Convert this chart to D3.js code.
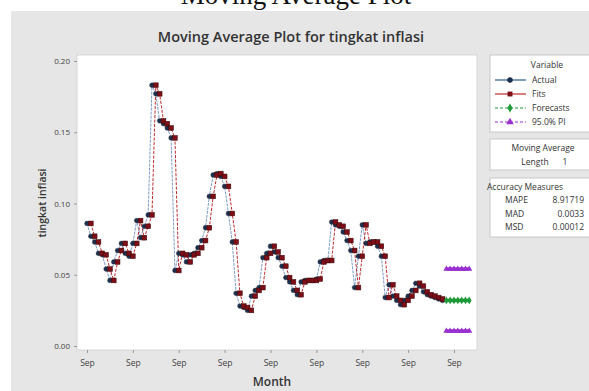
<!DOCTYPE html>
<html><head><meta charset="utf-8">
<script src="https://cdn.jsdelivr.net/npm/d3@7"></script>
<style>html,body{margin:0;padding:0;background:#fff;overflow:hidden}</style>
</head><body><svg id="c" width="589" height="391"></svg>
<script>
const xTickIdx = [0,12,24,36,48,60,72,84,96];
const xTickLabels = ["Sep","Sep","Sep","Sep","Sep","Sep","Sep","Sep","Sep"];
const yTicks = [0.00,0.05,0.10,0.15,0.20];
const actual = [0.086,0.077,0.073,0.065,0.064,0.054,0.046,0.059,0.067,0.072,
0.065,0.063,0.072,0.088,0.076,0.084,0.092,0.183,0.177,0.158,
0.156,0.153,0.146,0.053,0.065,0.064,0.059,0.064,0.065,0.069,
0.074,0.083,0.105,0.120,0.121,0.119,0.112,0.093,0.073,0.037,
0.028,0.027,0.025,0.035,0.039,0.041,0.062,0.065,0.070,0.066,
0.062,0.056,0.048,0.045,0.039,0.036,0.045,0.046,0.046,0.046,
0.047,0.059,0.060,0.060,0.087,0.085,0.084,0.080,0.074,0.067,
0.041,0.063,0.085,0.072,0.073,0.073,0.070,0.063,0.034,0.043,
0.035,0.032,0.029,0.032,0.035,0.039,0.044,0.042,0.038,0.036,
0.035,0.034,0.033,0.032];
const fits = [null,0.086,0.077,0.073,0.065,0.064,0.054,0.046,0.059,0.067,
0.072,0.065,0.063,0.072,0.088,0.076,0.084,0.092,0.183,0.177,
0.158,0.156,0.153,0.146,0.053,0.065,0.064,0.059,0.064,0.065,
0.069,0.074,0.083,0.105,0.120,0.121,0.119,0.112,0.093,0.073,
0.037,0.028,0.027,0.025,0.035,0.039,0.041,0.062,0.065,0.070,
0.066,0.062,0.056,0.048,0.045,0.039,0.036,0.045,0.046,0.046,
0.046,0.047,0.059,0.060,0.060,0.087,0.085,0.084,0.080,0.074,
0.067,0.041,0.063,0.085,0.072,0.073,0.073,0.070,0.063,0.034,
0.043,0.035,0.032,0.029,0.032,0.035,0.039,0.044,0.042,0.038,
0.036,0.035,0.034,0.033];
const forecastIdx = [94,95,96,97,98,99,100];
const forecast = [0.032,0.032,0.032,0.032,0.032,0.032,0.032];
const upperPI = [0.054,0.054,0.054,0.054,0.054,0.054,0.054];
const lowerPI = [0.0105,0.0105,0.0105,0.0105,0.0105,0.0105,0.0105];
const legendItems = ["Actual","Fits","Forecasts","95.0% PI"];
const accuracyNames = ["MAPE","MAD","MSD"];
const accuracyValues = ["8.91719","0.0033","0.00012"];

const svg = d3.select("#c");
const sans = "'Open Sans', 'DejaVu Sans', sans-serif";
svg.append("rect").attr("x",11).attr("y",11).attr("width",578).attr("height",380).attr("fill","#e6e6e6");
svg.append("text").attr("x",296).attr("y",4).attr("text-anchor","middle")
  .attr("font-family","'Liberation Serif', serif").attr("font-size",27).attr("fill","#111").text("Moving Average Plot");
svg.append("text").attr("x",291).attr("y",42).attr("text-anchor","middle")
  .attr("font-family",sans).attr("font-weight",600).attr("font-size",14.5).attr("fill","#333")
  .text("Moving Average Plot for tingkat inflasi");

const x = d3.scaleLinear().domain([0,96]).range([87,454]);
const y = d3.scaleLinear().domain([0,0.2]).range([346,61]);

svg.append("rect").attr("x",77).attr("y",55).attr("width",400).attr("height",295)
  .attr("fill","#fff").attr("stroke","#cfcfcf").attr("stroke-width",0.8);

const yAxis = svg.append("g").attr("transform","translate(77,0)")
  .call(d3.axisLeft(y).tickValues(yTicks).tickFormat(d3.format(".2f")).tickSize(3));
yAxis.select(".domain").remove();
yAxis.selectAll("line").attr("stroke","#999");
yAxis.selectAll("text").attr("font-family",sans).attr("font-size",8).attr("fill","#444").attr("dx",-1);

const xAxis = svg.append("g").attr("transform","translate(0,350)")
  .call(d3.axisBottom(x).tickValues(xTickIdx).tickFormat((d,i)=>xTickLabels[i]).tickSize(3));
xAxis.select(".domain").remove();
xAxis.selectAll("line").attr("stroke","#999");
xAxis.selectAll("text").attr("font-family",sans).attr("font-size",8.5).attr("fill","#444").attr("dy","1.2em");

svg.append("text").attr("transform","translate(46,203) rotate(-90)").attr("text-anchor","middle")
  .attr("font-family",sans).attr("font-weight",600).attr("font-size",10.5).attr("fill","#333").text("tingkat inflasi");
svg.append("text").attr("x",272).attr("y",386).attr("text-anchor","middle")
  .attr("font-family",sans).attr("font-weight",600).attr("font-size",12).attr("fill","#333").text("Month");

const line = d3.line().defined(d=>d[1]!=null).x(d=>x(d[0])).y(d=>y(d[1]));
const aPts = actual.map((v,i)=>[i,v]);
const fPts = fits.map((v,i)=>[i,v]);

const cA = "#2a5d96", cAm = "#1b2f4f";
const cF = "#c0282d", cFm = "#7d0d16";
const cG = "#1f9a3a", cP = "#9a2fd0";

svg.append("path").attr("d",line(aPts)).attr("fill","none").attr("stroke","#7f9cc8").attr("stroke-width",1).attr("stroke-dasharray","3,1");
svg.append("path").attr("d",line(fPts)).attr("fill","none").attr("stroke",cF).attr("stroke-width",1).attr("stroke-dasharray","3,1.5");
svg.append("g").selectAll("circle").data(aPts).join("circle")
  .attr("cx",d=>x(d[0])).attr("cy",d=>y(d[1])).attr("r",2.4).attr("fill",cAm).attr("stroke","#333").attr("stroke-width",0.4);
svg.append("g").selectAll("rect").data(fPts.filter(d=>d[1]!=null)).join("rect")
  .attr("x",d=>x(d[0])-2.4).attr("y",d=>y(d[1])-2.4).attr("width",4.8).attr("height",4.8)
  .attr("fill",cFm).attr("stroke","#3a0a0a").attr("stroke-width",0.5);

function band(vals,color,sym,size){
  const pts = vals.map((v,i)=>[forecastIdx[i],v]);
  svg.append("path").attr("d",line(pts)).attr("fill","none").attr("stroke",color).attr("stroke-width",3.5);
  svg.append("g").selectAll("path").data(pts).join("path")
    .attr("transform",d=>`translate(${x(d[0])},${y(d[1])})`)
    .attr("d",d3.symbol().type(sym).size(size)).attr("fill",color);
}
band(upperPI,cP,d3.symbolTriangle,16);
band(lowerPI,cP,d3.symbolTriangle,16);
band(forecast,cG,d3.symbolDiamond,18);

const lx = 490;
svg.append("rect").attr("x",lx).attr("y",55).attr("width",110).attr("height",77).attr("fill","#fff").attr("stroke","#c8c8c8");
svg.append("rect").attr("x",lx).attr("y",139).attr("width",110).attr("height",31).attr("fill","#fff").attr("stroke","#c8c8c8");
svg.append("rect").attr("x",lx).attr("y",178).attr("width",110).attr("height",59).attr("fill","#fff").attr("stroke","#c8c8c8");
const tstyle = s=>s.attr("font-family",sans).attr("font-size",8.5).attr("fill","#333");
tstyle(svg.append("text").attr("x",547).attr("y",68).attr("text-anchor","middle").text("Variable"));
const lcol = [[cA,cAm,d3.symbolCircle,null],[cF,cFm,d3.symbolSquare,null],[cG,cG,d3.symbolDiamond,"3,2"],[cP,cP,d3.symbolTriangle,"3,2"]];
const legY = [80,94,108,122];
legendItems.forEach((t,i)=>{
  const yy = legY[i];
  svg.append("line").attr("x1",495).attr("x2",526).attr("y1",yy).attr("y2",yy)
    .attr("stroke",lcol[i][0]).attr("stroke-width",1.2).attr("stroke-dasharray",lcol[i][3]);
  svg.append("path").attr("transform",`translate(510,${yy})`).attr("d",d3.symbol().type(lcol[i][2]).size(24)).attr("fill",lcol[i][1]);
  tstyle(svg.append("text").attr("x",532).attr("y",yy+3).text(t));
});
tstyle(svg.append("text").attr("x",543).attr("y",151).attr("text-anchor","middle").text("Moving Average"));
tstyle(svg.append("text").attr("x",535).attr("y",165).attr("text-anchor","middle").text("Length"));
tstyle(svg.append("text").attr("x",565).attr("y",165).attr("text-anchor","middle").text("1"));
tstyle(svg.append("text").attr("x",487).attr("y",190).text("Accuracy Measures"));
accuracyNames.forEach((n,i)=>{
  const yy = 203 + i*13.5;
  tstyle(svg.append("text").attr("x",505).attr("y",yy).text(n));
  tstyle(svg.append("text").attr("x",584).attr("y",yy).attr("text-anchor","end").text(accuracyValues[i]));
});
</script></body></html>
